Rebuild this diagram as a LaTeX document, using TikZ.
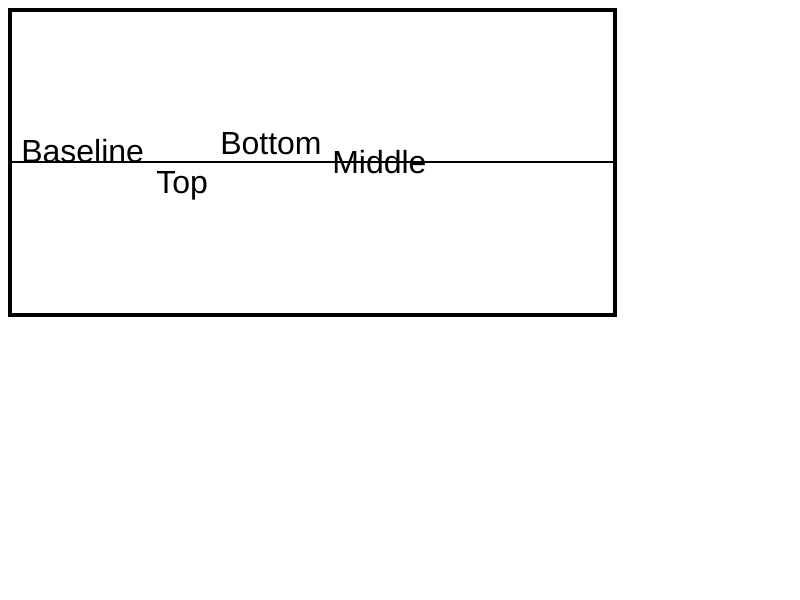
\documentclass[tikz,border=0pt]{standalone}
\usepackage{fontspec}
\setmainfont{Liberation Sans}
\usetikzlibrary{positioning}
\tikzset{
  frame/.style = {draw=black, line width=3.2pt},
  guide/.style = {draw=black, line width=1.5pt},
  lbl/.style = {anchor=base west, inner sep=0pt,
    font=\fontsize{24pt}{29pt}\selectfont}
}
\begin{document}
\begin{tikzpicture}[x=0.75pt, y=-0.75pt]
  \useasboundingbox (0,0) rectangle (800,600);
  \draw [frame] (10,10) rectangle (615,315);
  \coordinate (gl) at (12,162);
  \coordinate (gr) at (613,162);
  \draw [guide] (gl) -- (gr);
  \node [lbl] (baseline) at (21,162) {Baseline};
  \node [lbl] (top) at (156,193) {Top};
  \node [lbl] (bottom) at (220,154) {Bottom};
  \node [lbl] (middle) at (332,173) {Middle};
\end{tikzpicture}
\end{document}
